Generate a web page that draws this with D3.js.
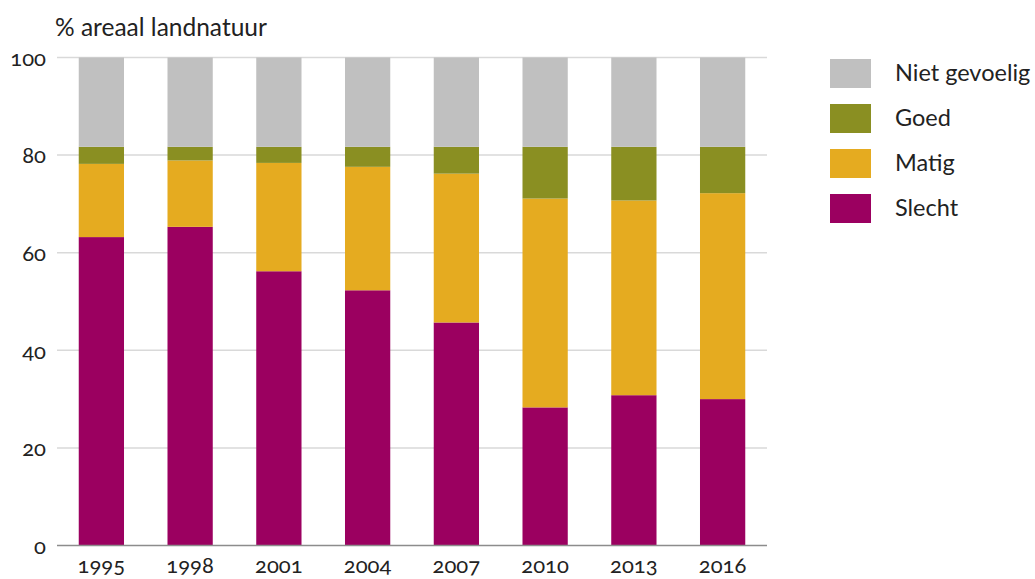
<!DOCTYPE html>
<html>
<head>
<meta charset="utf-8">
<script src="https://cdn.jsdelivr.net/npm/d3@7"></script>
<style>
  body { margin: 0; background: #fff; }
  svg text { font-family: Lato, "Open Sans", sans-serif; fill: #222; font-variant-numeric: oldstyle-nums; }
</style>
</head>
<body>
<svg id="chart" width="1035" height="579"></svg>
<script>
// data
let years = ["1995", "1998", "2001", "2004", "2007", "2010", "2013", "2016"];
let slecht = [63.2, 65.3, 56.2, 52.3, 45.7, 28.3, 30.8, 30.0];
let matig = [15.0, 13.6, 22.2, 25.3, 30.5, 42.8, 39.9, 42.2];
let goed = [3.5, 2.8, 3.3, 4.1, 5.5, 10.6, 11.0, 9.5];
let nietGevoelig = [18.3, 18.3, 18.3, 18.3, 18.3, 18.3, 18.3, 18.3];
let seriesNames = ["Slecht", "Matig", "Goed", "Niet gevoelig"];
let colors = ["#9b0060", "#e5ab20", "#8a8f22", "#c0c0c0"];
let yTicks = [0, 20, 40, 60, 80, 100];

let table = years.map((y, i) => ({
    year: y,
    "Slecht": slecht[i],
    "Matig": matig[i],
    "Goed": goed[i],
    "Niet gevoelig": nietGevoelig[i]
}));

let svg = d3.select("#chart");
let marginLeft = 57, marginRight = 767, plotTop = 57.5, plotBottom = 545.5;

let x = d3.scaleBand()
    .domain(years)
    .range([marginLeft, marginRight])
    .paddingInner(0.49)
    .paddingOuter(0.245);

let y = d3.scaleLinear().domain([0, 100]).range([plotBottom, plotTop]);

let color = d3.scaleOrdinal().domain(seriesNames).range(colors);

// gridlines
svg.append("g")
    .selectAll("line")
    .data(yTicks.filter(d => d > 0))
    .join("line")
    .attr("x1", marginLeft).attr("x2", marginRight)
    .attr("y1", d => y(d)).attr("y2", d => y(d))
    .attr("stroke", "#d9d9d9")
    .attr("stroke-width", 1.5);

// y axis labels
let yAxis = d3.axisLeft(y).tickValues(yTicks).tickSize(0).tickPadding(0);
svg.append("g")
    .attr("transform", `translate(${marginLeft - 11},0)`)
    .call(yAxis)
    .call(g => g.select(".domain").remove())
    .selectAll("text")
    .style("font-size", "22px")
    .attr("dy", "0.35em");

let stacked = d3.stack().keys(seriesNames)(table);

svg.append("g")
    .selectAll("g")
    .data(stacked)
    .join("g")
    .attr("fill", d => color(d.key))
    .selectAll("rect")
    .data(d => d)
    .join("rect")
    .attr("x", d => x(d.data.year))
    .attr("width", x.bandwidth())
    .attr("y", d => y(d[1]))
    .attr("height", d => y(d[0]) - y(d[1]));

// baseline + x labels
svg.append("line")
    .attr("x1", marginLeft).attr("x2", marginRight)
    .attr("y1", plotBottom).attr("y2", plotBottom)
    .attr("stroke", "#8c8c8c")
    .attr("stroke-width", 1.5);

let xAxis = d3.axisBottom(x).tickSize(0).tickPadding(0);
svg.append("g")
    .attr("transform", `translate(0,${plotBottom + 12})`)
    .call(xAxis)
    .call(g => g.select(".domain").remove())
    .selectAll("text")
    .style("font-size", "22px")
    .attr("dy", "0.71em");

// y title
svg.append("text")
    .attr("x", 55)
    .attr("y", 36)
    .style("font-size", "24.5px")
    .text("% areaal landnatuur");

// legend
let legendOrder = seriesNames.slice().reverse();
let legend = svg.append("g")
    .selectAll("g")
    .data(legendOrder)
    .join("g")
    .attr("transform", (d, i) => `translate(830,${59 + i * 45})`);

legend.append("rect")
    .attr("width", 41)
    .attr("height", 29)
    .attr("fill", d => color(d));

legend.append("text")
    .attr("x", 65)
    .attr("y", 14)
    .attr("dy", "0.35em")
    .style("font-size", "23.5px")
    .text(d => d);
</script>
</body>
</html>
